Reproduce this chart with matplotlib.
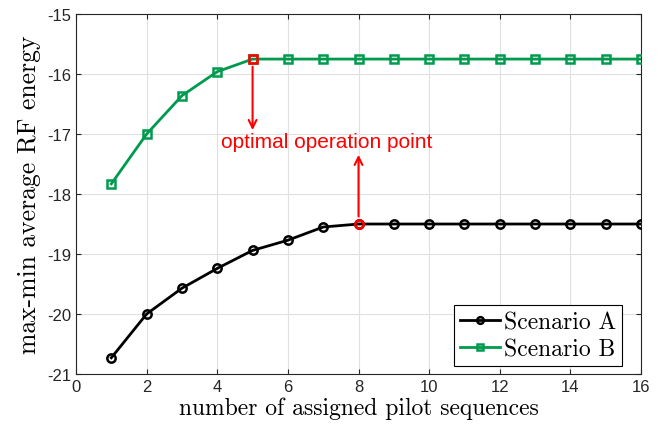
import numpy as np
from matplotlib import pyplot as plt

plt.rcParams['axes.unicode_minus'] = False

# data
pilots = np.arange(1, 17)
scenA = [-20.73, -20.0, -19.57, -19.24, -18.94, -18.77, -18.55, -18.5,
         -18.5, -18.5, -18.5, -18.5, -18.5, -18.5, -18.5, -18.5]
scenB = [-17.83, -17.0, -16.36, -15.96, -15.75, -15.75, -15.75, -15.75,
         -15.75, -15.75, -15.75, -15.75, -15.75, -15.75, -15.75, -15.75]
optA = 8
optB = 5
green = '#009a4e'

fig = plt.figure(figsize=(6.57, 4.31), dpi=100)
ax = fig.add_axes([0.1157, 0.130, 0.860, 0.835])

ax.plot(pilots, scenA, '-o', color='k', lw=2, ms=6, mfc='none', mew=1.8,
        label='Scenario A', zorder=3)
ax.plot(pilots, scenB, '-s', color=green, lw=2, ms=6, mfc='none', mew=1.8,
        label='Scenario B', zorder=3)

# optimal points in red
ax.plot(optA, scenA[optA - 1], 'o', color='red', ms=6, mfc='none', mew=1.8, zorder=4)
ax.plot(optB, scenB[optB - 1], 's', color='red', ms=6, mfc='none', mew=1.8, zorder=4)

arrow = dict(arrowstyle='->', color='red', lw=1.5, mutation_scale=14)
ax.annotate('', xy=(optB, -16.98), xytext=(optB, scenB[optB - 1] - 0.08),
            arrowprops=arrow)
ax.annotate('', xy=(optA, -17.3), xytext=(optA, scenA[optA - 1] + 0.08),
            arrowprops=arrow)
ax.text(7.1, -17.13, 'optimal operation point', color='red', fontsize=15,
        ha='center', va='center', family='Liberation Sans')

ax.set_xlim(0, 16)
ax.set_ylim(-21, -15)
ax.set_xticks(np.arange(0, 17, 2))
ax.set_yticks(np.arange(-21, -14, 1))
ax.grid(True, color='#e0e0e0', lw=0.8)
ax.set_axisbelow(True)
ax.tick_params(direction='in', top=True, right=True, labelsize=12, colors='#262626')
for lab in ax.get_xticklabels() + ax.get_yticklabels():
    lab.set_family('Liberation Sans')
for s in ax.spines.values():
    s.set_color('#262626')

ax.set_xlabel('number of assigned pilot sequences', fontsize=17, family='cmr10',
              labelpad=2)
ax.set_ylabel('max-min average RF energy', fontsize=18.5, family='cmr10',
              labelpad=4)

leg = ax.legend(loc='lower right', fancybox=False, edgecolor='k', framealpha=1,
                prop={'family': 'cmr10', 'size': 17}, handlelength=1.7,
                handletextpad=0.15, borderpad=0.25, labelspacing=0.2,
                borderaxespad=0, bbox_to_anchor=(0.966, 0.022), markerscale=0.8)
leg.get_frame().set_linewidth(0.8)

fig.savefig('out.png', dpi=100)
